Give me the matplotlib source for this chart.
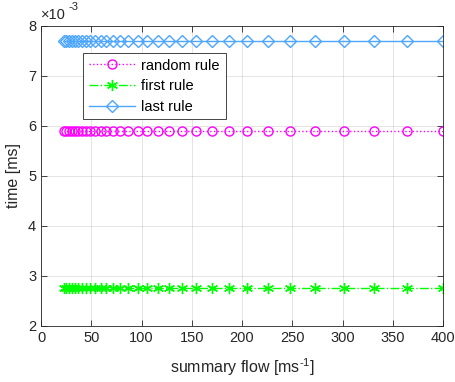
import matplotlib
matplotlib.use('Agg')
import matplotlib.pyplot as plt

plt.rcParams['font.family'] = ['Liberation Sans', 'DejaVu Sans']
plt.rcParams['mathtext.fontset'] = 'custom'
plt.rcParams['mathtext.rm'] = 'Liberation Sans'

# summary flow values
flow = [400, 364, 331, 301, 273, 248, 226, 205, 187, 170, 154, 140, 127, 116,
        105, 96, 87, 79, 72, 65, 60, 54, 49, 45, 41, 37, 34, 31, 28, 25, 23]
t_random = [5.9] * len(flow)   # x 1e-3 ms
t_first = [2.75] * len(flow)
t_last = [7.7] * len(flow)

dark = '#262626'

fig = plt.figure(figsize=(4.56, 3.82), dpi=100)
ax = fig.add_axes([0.09, 0.1466, 0.8815, 0.7854])

ax.plot(flow, t_random, color='#FF00FF', linestyle=':', marker='o',
        markersize=6.5, markerfacecolor='none', linewidth=1, label='random rule')
ax.plot(flow, t_first, color='#00FF00', linestyle='-.', marker=(6, 2, 0),
        markersize=8, linewidth=1, label='first rule')
ax.plot(flow, t_last, color='#4DA6FF', linestyle='-', marker='D',
        markersize=6, markerfacecolor='none', linewidth=1, label='last rule')

ax.set_xlim(0, 400)
ax.set_ylim(2, 8)
ax.set_xticks(range(0, 401, 50))
ax.set_yticks(range(2, 9))

ax.grid(True, color='#000000', alpha=0.12, linewidth=0.6)
ax.tick_params(direction='in', top=True, right=True, labelsize=10.5,
               colors=dark, length=4, width=0.6)
for s in ax.spines.values():
    s.set_color(dark)
    s.set_linewidth(0.6)

ax.set_xlabel('summary flow [ms$^{\\text{-1}}$]', fontsize=11.5, color=dark,
              labelpad=8)
ax.set_ylabel('time [ms]', fontsize=11.5, color=dark, labelpad=5)

# exponent label like MATLAB
ax.text(0.0, 1.012, '\u00d710', transform=ax.transAxes, fontsize=10.5,
        color=dark, ha='left', va='bottom')
ax.text(0.068, 1.045, '-3', transform=ax.transAxes, fontsize=8,
        color=dark, ha='left', va='bottom')

leg = ax.legend(loc='upper left', bbox_to_anchor=(0.104, 0.911), fontsize=10.5,
                handlelength=3.2, fancybox=False, framealpha=1,
                edgecolor=dark, borderpad=0.4, labelspacing=0.45,
                handletextpad=0.4, borderaxespad=0)
leg.get_frame().set_linewidth(0.6)

fig.savefig('out.png', dpi=100)
